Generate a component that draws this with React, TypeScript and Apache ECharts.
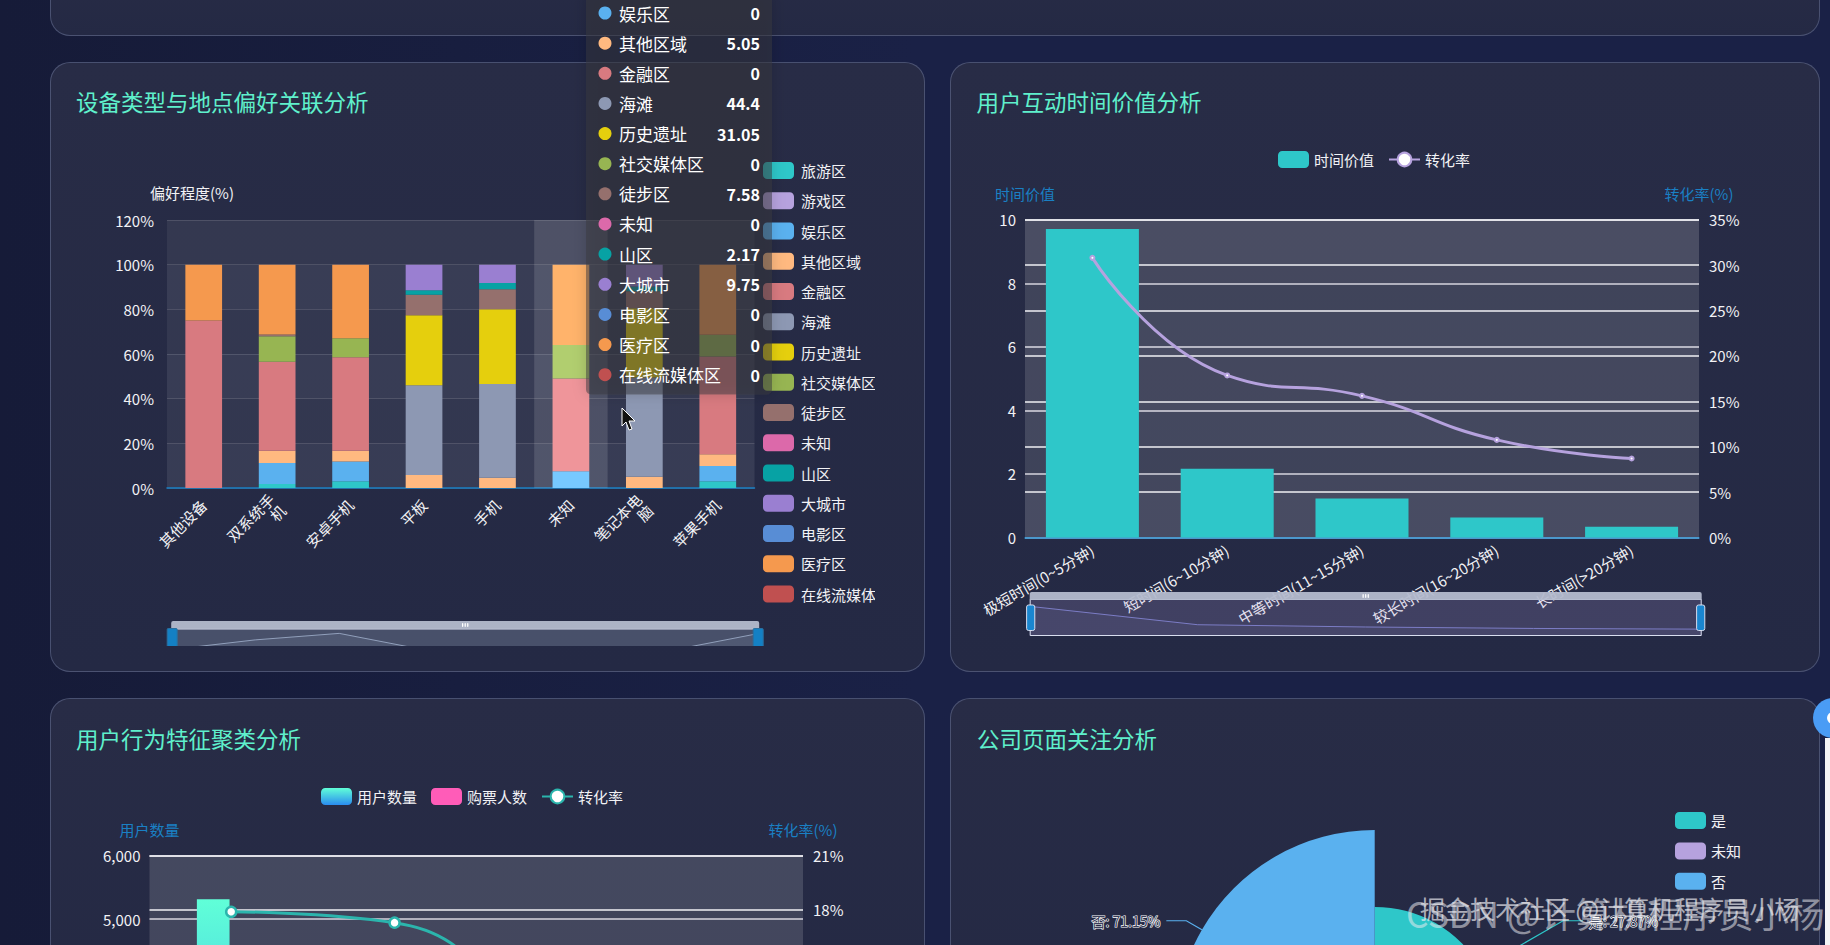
import React, { useEffect, useRef } from "react";
import * as echarts from "echarts";

const FONT = '"Noto Sans CJK SC", "Noto Sans", sans-serif';

// Chart 1
const deviceCategories = ["其他设备", "双系统手机", "安卓手机", "平板", "手机", "未知", "笔记本电脑", "苹果手机"];
const tourism = [0, 1.8, 3, 0, 0, 0, 0, 3];
const gaming = [0, 0, 0, 0, 0, 0, 0, 0];
const entertainment = [0, 9.4, 8.9, 0, 0, 7.5, 0, 6.9];
const otherArea = [0, 5.5, 4.8, 5.8, 4.6, 0, 5.05, 5.2];
const finance = [75, 39.8, 41.8, 0, 0, 41.5, 0, 43.8];
const beach = [0, 0, 0, 40.2, 42, 0, 44.4, 0];
const heritage = [0, 0, 0, 31.4, 33.4, 0, 31.05, 0];
const socialMedia = [0, 11.5, 8.5, 0, 0, 15, 0, 9.7];
const hiking = [0, 0.7, 0, 9.1, 9, 0, 7.58, 0];
const unknownArea = [0, 0, 0, 0, 0, 0, 0, 0];
const mountain = [0, 0, 0, 2, 2.8, 0, 2.17, 0];
const bigCity = [0, 0, 0, 11.5, 8.2, 0, 9.75, 0];
const cinema = [0, 0, 0, 0, 0, 0, 0, 0];
const medical = [25, 31.3, 33, 0, 0, 36, 0, 31.4];
const streaming = [0, 0, 0, 0, 0, 0, 0, 0];
const areaNames = ["旅游区", "游戏区", "娱乐区", "其他区域", "金融区", "海滩", "历史遗址", "社交媒体区", "徒步区", "未知", "山区", "大城市", "电影区", "医疗区", "在线流媒体区"];
const areaValues = [tourism, gaming, entertainment, otherArea, finance, beach, heritage, socialMedia, hiking, unknownArea, mountain, bigCity, cinema, medical, streaming];
const areaColors = ["#2ec7c9", "#b6a2de", "#5ab1ef", "#ffb980", "#d87a80", "#8d98b3", "#e5cf0d", "#97b552", "#95706d", "#dc69aa", "#07a2a4", "#9a7fd1", "#588dd5", "#f5994e", "#c05050"];
const tooltipCategoryIndex = 6;
const highlightedCategoryIndex = 5;

// Chart 2
const timeCategories = ["极短时间(0~5分钟)", "短时间(6~10分钟)", "中等时间(11~15分钟)", "较长时间(16~20分钟)", "长时间(>20分钟)"];
const timeValue = [9.71, 2.16, 1.23, 0.63, 0.34];
const timeConversion = [30.8, 17.85, 15.6, 10.75, 8.7];

// Chart 3
const clusterCategories = ["群组一", "群组二", "群组三", "群组四"];
const clusterUsers = [5311, 3400, 2100, 1200];
const clusterBuyers = [950, 588, 230, 96];
const clusterConversion = [17.9, 17.3, 11, 8];

// Chart 4
const followNames = ["是", "未知", "否"];
const followValues = [27.87, 0.98, 71.15];
const followColors = ["#2ec7c9", "#b6a2de", "#5ab1ef"];

const AXIS_BLUE = "#1a80c4";
const WHITE = "#f2f2f5";
const HANDLE_TALL = "path://M2,0H6a2,2,0,0,1,2,2V23a2,2,0,0,1-2,2H2a2,2,0,0,1-2-2V2A2,2,0,0,1,2,0Z";
const HANDLE_WIDE = "path://M1,0H9a1,1,0,0,1,1,1V25a1,1,0,0,1-1,1H1a1,1,0,0,1-1-1V1A1,1,0,0,1,1,0Z";
const txt = { color: WHITE, fontSize: 15, fontFamily: FONT };
const splitAreaDual = { show: true, areaStyle: { color: ["rgba(250,250,250,0.085)", "rgba(200,200,200,0.085)"] } };
const makeTitle = (text: string, left: number, top: number) => ({
  text, left, top, padding: 0,
  textStyle: { color: "#5ff0cc", fontSize: 22.5, fontWeight: "normal", fontFamily: FONT },
});
const blueName = { color: AXIS_BLUE, fontSize: 15, fontFamily: FONT };
const xLine = { lineStyle: { color: AXIS_BLUE, width: 1.5 } };
const xTick = { lineStyle: { color: AXIS_BLUE } };

const option1 = (): any => {
  const rowStep = 30.14;
  const rows = areaNames.map((name, i) => ({ name, color: areaColors[i], value: areaValues[i][tooltipCategoryIndex], y: 13 + (i - 2) * rowStep })).filter((r) => r.y > 0);
  const tooltipChildren: any[] = [
    { type: "rect", z: 100, shape: { x: 536, y: -8, width: 186, height: 402.5, r: 5 }, style: { fill: "rgba(58,58,62,0.5)", shadowBlur: 14, shadowColor: "rgba(0,0,0,0.3)" } },
  ];
  rows.forEach((r) => {
    tooltipChildren.push({ type: "circle", z: 101, shape: { cx: 555, cy: r.y, r: 6.5 }, style: { fill: r.color } });
    tooltipChildren.push({ type: "text", z: 101, x: 569, y: r.y, style: { text: r.name, fill: "#fff", font: `17px ${FONT}`, textAlign: "left", textVerticalAlign: "middle" } });
    tooltipChildren.push({ type: "text", z: 101, x: 710, y: r.y, style: { text: String(r.value), fill: "#fff", font: `bold 16px ${FONT}`, textAlign: "right", textVerticalAlign: "middle" } });
  });
  return {
    animation: false,
    title: makeTitle("设备类型与地点偏好关联分析", 26, 90),
    color: areaColors,
    tooltip: { trigger: "axis", showContent: false, axisPointer: { type: "shadow", shadowStyle: { color: "rgba(255,255,255,0.13)" } } },
    legend: {
      orient: "vertical", left: 708, top: 157, itemWidth: 31, itemHeight: 17, itemGap: 13.25, icon: "roundRect",
      itemStyle: { borderWidth: 0 }, textStyle: { ...txt, padding: [0, 0, 0, 2] }, data: areaNames,
    },
    grid: { left: 117, top: 220, width: 587.5, height: 268 },
    xAxis: {
      type: "category", data: deviceCategories,
      axisLine: xLine, axisTick: { ...xTick, alignWithLabel: true },
      axisLabel: { ...txt, rotate: 45, interval: 0, width: 63, overflow: "break", lineHeight: 16, margin: 14 },
    },
    yAxis: {
      type: "value", min: 0, max: 120, interval: 20, name: "偏好程度(%)",
      nameTextStyle: { ...txt, padding: [0, 0, 3, 50] }, nameGap: 17,
      axisLabel: { ...txt, formatter: "{value}%", margin: 13 }, axisLine: { show: false }, axisTick: { show: false },
      splitArea: splitAreaDual, splitLine: { lineStyle: { color: "rgba(255,255,255,0.13)" } },
    },
    dataZoom: [{
      type: "slider", xAxisIndex: 0, left: 118, width: 588, top: 621, height: 26, start: 0, end: 100,
      showDetail: false, backgroundColor: "transparent", borderColor: "#d9deef", fillerColor: "rgba(167,183,204,0.28)",
      moveHandleSize: 8, moveHandleStyle: { color: "#b4bace", opacity: 0.95 },
      handleIcon: HANDLE_WIDE, handleSize: "100%", handleStyle: { color: "#1480c4", borderColor: "#2a6f9f" },
      dataBackground: { lineStyle: { color: "#8a97b5", width: 1 }, areaStyle: { color: "rgba(140,155,190,0.35)" } },
      selectedDataBackground: { lineStyle: { color: "#8a97b5", width: 1 }, areaStyle: { color: "rgba(140,155,190,0.35)" } },
    }],
    series: areaNames.map((name, i) => ({
      name, type: "bar", stack: "total", barWidth: "50%", data: areaValues[i],
      emphasis: { focus: "none" },
    })),
    graphic: {
      elements: [
        { type: "group", z: 100, children: tooltipChildren },
        {
          type: "polygon", z: 110,
          shape: { points: [[572, 408], [572, 426], [576, 422], [579, 430], [582, 429], [579, 421], [585, 421]] },
          style: { fill: "#111", stroke: "#fff", lineWidth: 1 },
        },
      ],
    },
  };
};

const option2 = (): any => ({
  animation: false,
  title: makeTitle("用户互动时间价值分析", 26.5, 28),
  legend: {
    left: 323, top: 84, itemWidth: 31, itemHeight: 17, itemGap: 14, textStyle: txt,
    data: [{ name: "时间价值", icon: "roundRect" }, { name: "转化率" }],
  },
  grid: { left: 75, top: 157.7, width: 674, height: 317.8 },
  xAxis: {
    type: "category", data: timeCategories, axisLine: xLine, axisTick: xTick,
    axisLabel: { ...txt, rotate: 30, interval: 0, margin: 11 },
  },
  yAxis: [
    {
      type: "value", min: 0, max: 10, interval: 2, name: "时间价值", nameTextStyle: blueName, nameGap: 19,
      axisLabel: { ...txt, margin: 9 }, axisLine: { show: false }, axisTick: { show: false },
      splitArea: splitAreaDual, splitLine: { lineStyle: { color: "rgba(222,222,232,0.72)", width: 2 } },
    },
    {
      type: "value", min: 0, max: 35, interval: 5, name: "转化率(%)", nameTextStyle: blueName, nameGap: 19,
      axisLabel: { ...txt, formatter: "{value}%", margin: 10 }, axisLine: { show: false }, axisTick: { show: false },
      splitArea: splitAreaDual, splitLine: { lineStyle: { color: "#f0f0f4", width: 1.5 } },
    },
  ],
  dataZoom: [{
    type: "slider", xAxisIndex: 0, left: 76.5, width: 672, top: 530, height: 36.5, start: 0, end: 100,
    showDetail: false, backgroundColor: "transparent", borderColor: "#d9deef", fillerColor: "rgba(182,162,222,0.2)",
    moveHandleSize: 8, moveHandleStyle: { color: "#b4bace", opacity: 0.95 },
    handleIcon: HANDLE_TALL, handleSize: "70%", handleStyle: { color: "#1a86d0", borderColor: "#d9deef", borderWidth: 1 },
    dataBackground: { lineStyle: { color: "#6e74c0", width: 1 }, areaStyle: { color: "rgba(120,120,190,0.3)" } },
    selectedDataBackground: { lineStyle: { color: "#6e74c0", width: 1 }, areaStyle: { color: "rgba(120,120,190,0.3)" } },
  }],
  series: [
    { name: "时间价值", type: "bar", barWidth: "69%", data: timeValue, itemStyle: { color: "#2ec7c9" } },
    {
      name: "转化率", type: "line", yAxisIndex: 1, smooth: true, data: timeConversion, symbol: "emptyCircle", symbolSize: 4,
      lineStyle: { color: "#b6a2de", width: 3 }, itemStyle: { color: "#b6a2de" },
    },
  ],
});

const barGradient = () => new echarts.graphic.LinearGradient(0, 0, 0, 1, [
  { offset: 0, color: "#60ffd8" }, { offset: 1, color: "#2a8cf0" },
]);

const option3 = (): any => ({
  animation: false,
  title: makeTitle("用户行为特征聚类分析", 26, 29),
  legend: {
    left: 266, top: 85, itemWidth: 31, itemHeight: 17, itemGap: 14, textStyle: txt,
    data: [{ name: "用户数量", icon: "roundRect" }, { name: "购票人数", icon: "roundRect" }, { name: "转化率" }],
  },
  grid: { left: 99.5, top: 157.7, width: 653.5, height: 380 },
  xAxis: {
    type: "category", data: clusterCategories, axisLine: xLine, axisTick: xTick, axisLabel: { show: false },
  },
  yAxis: [
    {
      type: "value", min: 0, max: 6000, interval: 1000, name: "用户数量", nameTextStyle: blueName, nameGap: 19,
      axisLabel: { ...txt, margin: 9 }, axisLine: { show: false }, axisTick: { show: false },
      splitArea: splitAreaDual, splitLine: { lineStyle: { color: "rgba(222,222,232,0.72)", width: 2 } },
    },
    {
      type: "value", min: 0, max: 21, interval: 3, name: "转化率(%)", nameTextStyle: blueName, nameGap: 19,
      axisLabel: { ...txt, formatter: "{value}%", margin: 10 }, axisLine: { show: false }, axisTick: { show: false },
      splitArea: splitAreaDual, splitLine: { lineStyle: { color: "#f0f0f4", width: 1.5 } },
    },
  ],
  series: [
    { name: "用户数量", type: "bar", barWidth: "20%", barGap: "10%", data: clusterUsers, itemStyle: { color: barGradient() } },
    { name: "购票人数", type: "bar", barWidth: "20%", data: clusterBuyers, itemStyle: { color: "#ff5cb8" } },
    {
      name: "转化率", type: "line", yAxisIndex: 1, smooth: true, data: clusterConversion, symbol: "circle", symbolSize: 10,
      lineStyle: { color: "#2bb5ad", width: 3 }, itemStyle: { color: "#fff", borderColor: "#2bb5ad", borderWidth: 2.5 },
    },
  ],
});

const option4 = (): any => ({
  animation: false,
  title: makeTitle("公司页面关注分析", 27, 29),
  color: followColors,
  legend: {
    orient: "vertical", left: 720, top: 109, itemWidth: 31, itemHeight: 17, itemGap: 13.4, icon: "roundRect",
    textStyle: txt, data: followNames,
  },
  series: [{
    type: "pie", roseType: "area", center: [424.7, 331.5], radius: [73, 199.5], startAngle: 90, clockwise: true,
    data: followNames.map((name, i) => ({
      name, value: followValues[i],
      label: i === 1 ? { show: false } : undefined,
      labelLine: i === 1 ? { show: false } : undefined,
    })),
    label: {
      formatter: "{b}: {c}%", fontSize: 14, fontFamily: FONT, color: "#3a3f5a",
      textBorderColor: "#fff", textBorderWidth: 1.2, distanceToLabelLine: 6,
    },
    labelLine: { length: 18, length2: 20, lineStyle: { width: 1.2 } },
  }],
  graphic: {
    elements: [
      { type: "text", z: 50, x: 456, y: 214, style: { text: "CSDN @计算机程序员小杨", fill: "rgba(235,235,240,0.55)", font: `35.5px ${FONT}`, textAlign: "left", textVerticalAlign: "middle" } },
      { type: "text", z: 51, x: 470, y: 210, style: { text: "掘金技术社区 @计算机程序员小杨", fill: "rgba(235,235,240,0.7)", font: `25px ${FONT}`, textAlign: "left", textVerticalAlign: "middle" } },
    ],
  },
});

type Box = { left: number; top: number; width: number; height: number };
const boxes: Box[] = [
  { left: 50, top: 0, width: 825, height: 646 },
  { left: 950, top: 62, width: 870, height: 610 },
  { left: 50, top: 698, width: 875, height: 600 },
  { left: 950, top: 698, width: 875, height: 600 },
];
const cardBoxes: Box[] = [
  { left: 50, top: -40, width: 1770, height: 76 },
  { left: 50, top: 62, width: 875, height: 610 },
  { left: 950, top: 62, width: 870, height: 610 },
  { left: 50, top: 698, width: 875, height: 320 },
  { left: 950, top: 698, width: 870, height: 320 },
];

export default function App() {
  const refs = useRef<(HTMLDivElement | null)[]>([]);
  useEffect(() => {
    const builders = [option1, option2, option3, option4];
    const charts = builders.map((b, i) => {
      const c = echarts.init(refs.current[i]!, undefined, { renderer: "svg" });
      c.setOption(b());
      return c;
    });
    charts[0].dispatchAction({ type: "showTip", seriesIndex: 0, dataIndex: highlightedCategoryIndex });
    charts[0].dispatchAction({ type: "highlight", seriesIndex: areaNames.map((_, i) => i), dataIndex: highlightedCategoryIndex });
    return () => charts.forEach((c) => c.dispose());
  }, []);
  return (
    <div style={{ position: "fixed", left: 0, top: 0, width: 1830, height: 945, overflow: "hidden", background: "linear-gradient(90deg,#161b38 0%,#1a2146 50%,#1a2146 100%)", fontFamily: FONT }}>
      {cardBoxes.map((b, i) => (
        <div key={i} style={{ position: "absolute", ...b, boxSizing: "border-box", borderRadius: 20, border: "1px solid rgba(125,135,175,0.42)", background: "linear-gradient(180deg,#282c46 0%,#242944 100%)" }} />
      ))}
      {boxes.map((b, i) => (
        <div key={i} ref={(el) => { refs.current[i] = el; }} style={{ position: "absolute", ...b }} />
      ))}
      <div style={{ position: "absolute", left: 1813, top: 698, width: 40, height: 40, borderRadius: 20, background: "#4a9cf5" }}>
        <div style={{ position: "absolute", left: 14, top: 14, width: 12, height: 12, borderRadius: 6, background: "#fff" }} />
      </div>
      <div style={{ position: "absolute", left: 1825, top: 738, width: 5, height: 207, background: "#f4f4f6" }} />
    </div>
  );
}
